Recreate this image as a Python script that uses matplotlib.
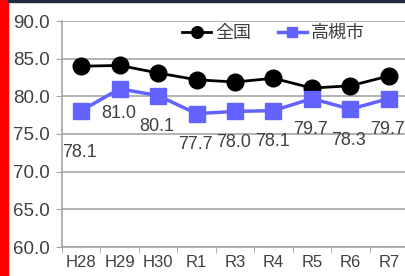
import matplotlib.pyplot as plt
from matplotlib.patches import Rectangle

years = ['H28', 'H29', 'H30', 'R1', 'R3', 'R4', 'R5', 'R6', 'R7']
zenkoku = [84.0, 84.1, 83.1, 82.2, 81.9, 82.4, 81.1, 81.4, 82.7]
takatsuki = [78.1, 81.0, 80.1, 77.7, 78.0, 78.1, 79.7, 78.3, 79.7]
y_ticks = [60, 65, 70, 75, 80, 85, 90]

plt.rcParams['font.family'] = ['Liberation Sans', 'Noto Sans CJK JP', 'DejaVu Sans']
txt = '#404040'
grid_c = '#a6a6a6'

fig = plt.figure(figsize=(4.05, 2.76), dpi=100)
W, H = 405, 276
ax = fig.add_axes([62 / W, (H - 247) / H, (408 - 62) / W, (247 - 21) / H])

x = list(range(len(years)))
ax.plot(x, zenkoku, color='black', linewidth=2, marker='o', markersize=12,
        label='全国', zorder=3)
ax.plot(x, takatsuki, color='#6262ff', linewidth=2.5, marker='s', markersize=11,
        label='高槻市', zorder=3)

# data labels below the 高槻市 points
for i, v in enumerate(takatsuki):
    dy = -31 if i not in (0, 1) else (-42 if i == 0 else -25)
    ax.annotate(f'{v:.1f}', (i, v), xytext=(-1, dy * 0.72), textcoords='offset points',
                ha='center', va='center', fontsize=13, color=txt)

ax.set_xlim(-0.5, len(years) - 0.5)
ax.set_ylim(60, 90)
ax.set_yticks(y_ticks)
ax.set_yticklabels([f'{t:.1f}' for t in y_ticks], fontsize=13.5, color=txt)
ax.set_xticks(x)
ax.set_xticklabels(years, fontsize=12, color=txt)
ax.set_xticks([i - 0.5 for i in range(len(years) + 1)], minor=True)
ax.tick_params(axis='x', which='major', length=0, pad=6)
ax.tick_params(axis='x', which='minor', length=4, color=grid_c, direction='out')
ax.tick_params(axis='y', length=4, color=grid_c, pad=5)

ax.yaxis.grid(True, color=grid_c, linewidth=1.2)
ax.set_axisbelow(True)
for s in ['top', 'right']:
    ax.spines[s].set_visible(False)
for s in ['left', 'bottom']:
    ax.spines[s].set_color(grid_c)
    ax.spines[s].set_linewidth(1.2)

leg = fig.legend(loc='center', bbox_to_anchor=(0.675, 1 - 33 / H), ncol=2, frameon=False,
                 handlelength=1.6, handletextpad=0.2, columnspacing=1.5,
                 markerscale=0.7, prop={'family': ['Noto Sans CJK JP'], 'size': 13})
for t in leg.get_texts():
    t.set_color(txt)

# red strip on the left and dark line on top
fig.patches.append(Rectangle((0, 0), 8 / W, 1, transform=fig.transFigure,
                             color='#ff0000', zorder=10))
fig.patches.append(Rectangle((8 / W, 1 - 2 / H), 1, 2 / H, transform=fig.transFigure,
                             color='#1f2a44', zorder=10))

fig.savefig('out.png', dpi=100, facecolor='white')
